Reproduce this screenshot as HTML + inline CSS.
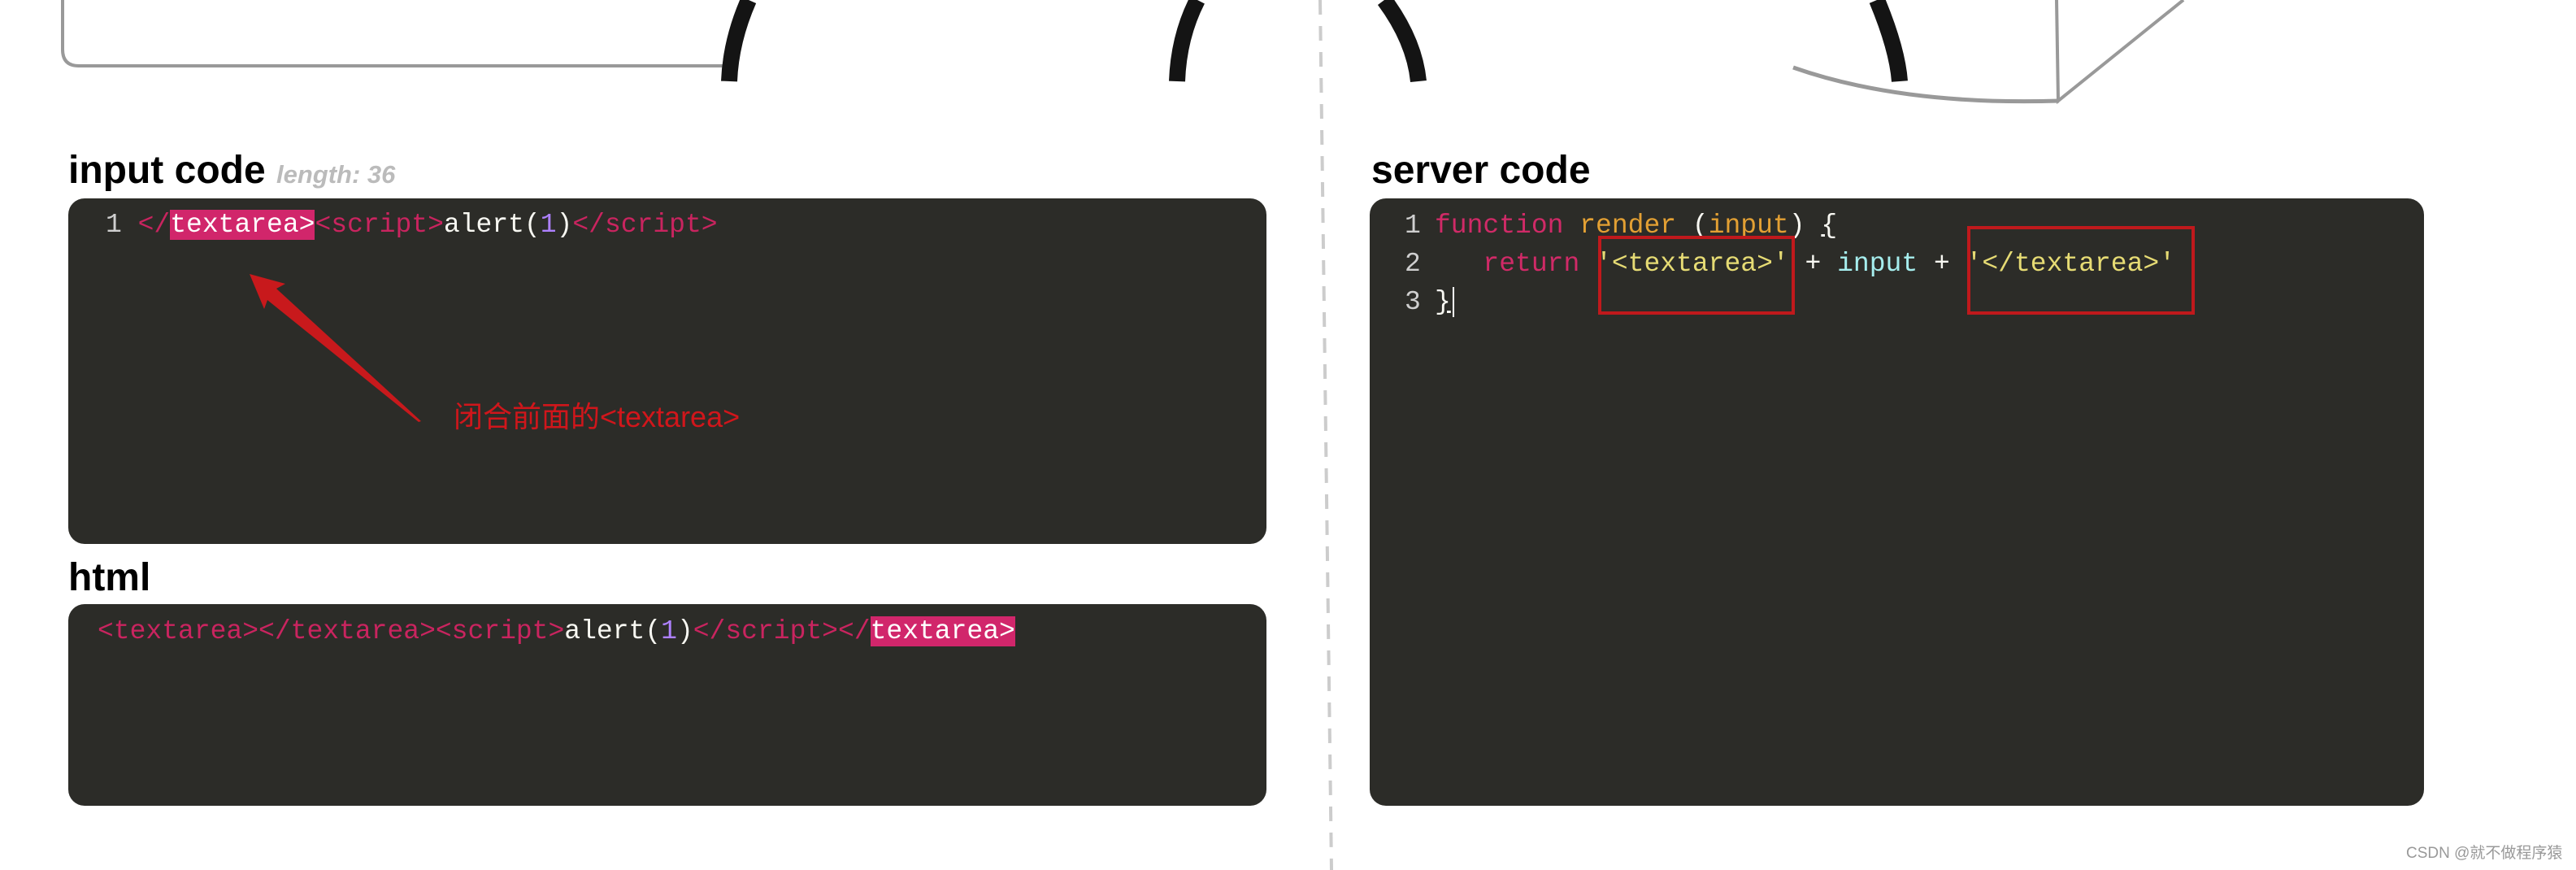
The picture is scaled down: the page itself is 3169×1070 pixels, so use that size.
<!DOCTYPE html>
<html><head><meta charset="utf-8">
<style>
html,body{margin:0;padding:0;background:#fff;}
body{width:3169px;height:1070px;position:relative;overflow:hidden;}
.abs{position:absolute;}
.h{font-family:"Liberation Sans",sans-serif;font-weight:bold;font-size:48px;color:#000;line-height:1;white-space:nowrap;}
.box{position:absolute;background:#2c2c28;border-radius:20px;}
.code{position:absolute;font-family:"Liberation Mono",monospace;font-size:33px;white-space:pre;color:#f8f8f2;}
.tag{color:#c9245f;}
.num{color:#ae81ff;}
.hl{background:#d1266b;color:#fff;}
.ln{color:#cfcfcf;}
.kw{color:#d02a67;}
.fn{color:#e3a033;}
.str{color:#e6db74;}
.var{color:#a6eeee;}
.ul{text-decoration:underline;}
.rb{position:absolute;border:4px solid #c0191c;box-sizing:border-box;}
</style></head><body>

<svg class="abs" style="left:0;top:0" width="3169" height="1070">
  <path d="M77,-10 L77,61 Q77,81 97,81 L900,81" fill="none" stroke="#999" stroke-width="4"/>
  <path d="M921,0 Q899,50 897,100" fill="none" stroke="#141414" stroke-width="20"/>
  <path d="M1473,0 Q1450,45 1448,100" fill="none" stroke="#141414" stroke-width="20"/>
  <path d="M1703,0 Q1740,50 1745,100" fill="none" stroke="#141414" stroke-width="20"/>
  <path d="M2309,0 Q2334,60 2337,100" fill="none" stroke="#141414" stroke-width="20"/>
  <path d="M2206,83 Q2340,130 2533,124" fill="none" stroke="#999" stroke-width="5"/>
  <path d="M2530,0 L2532,124 L2686,0" fill="none" stroke="#999" stroke-width="4"/>
  <line x1="1624" y1="0" x2="1638" y2="1070" stroke="#ccc" stroke-width="4" stroke-dasharray="18,14"/>
</svg>

<div class="abs h" style="left:84px;top:186px;">input code <span style="font-style:italic;color:#bbb;font-size:31px;">length: 36</span></div>
<div class="box" style="left:84px;top:244px;width:1474px;height:425px;"></div>
<div class="code" style="left:130px;top:256px;line-height:42px;"><span class="ln">1</span> <span class="tag">&lt;/</span><span class="hl">textarea&gt;</span><span class="tag">&lt;script&gt;</span>alert(<span class="num">1</span>)<span class="tag">&lt;/script&gt;</span></div>
<div class="abs" style="left:558px;top:492px;font-family:'Liberation Sans','Noto Sans CJK SC',sans-serif;font-size:36px;color:#d0161b;white-space:nowrap;line-height:42px;">闭合前面的&lt;textarea&gt;</div>

<div class="abs h" style="left:84px;top:687px;">html</div>
<div class="box" style="left:84px;top:743px;width:1474px;height:248px;"></div>
<div class="code" style="left:120px;top:756px;line-height:42px;"><span class="tag">&lt;textarea&gt;&lt;/textarea&gt;&lt;script&gt;</span>alert(<span class="num">1</span>)<span class="tag">&lt;/script&gt;&lt;/</span><span class="hl">textarea&gt;</span></div>

<div class="abs h" style="left:1687px;top:186px;">server code</div>
<div class="box" style="left:1685px;top:244px;width:1297px;height:747px;"></div>
<div class="code ln" style="left:1728px;top:254px;line-height:47px;">1
2
3</div>
<div class="code" style="left:1765px;top:254px;line-height:47px;"><span class="kw">function</span> <span class="fn">render</span> (<span class="fn">input</span>) <span class="ul">{</span>
   <span class="kw">return</span> <span class="str">'&lt;textarea&gt;'</span> + <span class="var">input</span> + <span class="str">'&lt;/textarea&gt;'</span>
<span class="ul">}</span><span style="border-left:2px solid #fff;margin-left:2px;"> </span></div>
<div class="rb" style="left:1966px;top:290px;width:242px;height:97px;"></div>
<div class="rb" style="left:2420px;top:278px;width:280px;height:109px;"></div>

<svg class="abs" style="left:0;top:0" width="3169" height="1070">
  <polygon points="307,337 351,349 340,355 518,518 515,519 329,369 325,380" fill="#c8191c"/>
</svg>

<div class="abs" style="left:2960px;top:1037px;font-family:'Liberation Sans','Noto Sans CJK SC',sans-serif;font-size:19px;color:#999;white-space:nowrap;line-height:26px;">CSDN @就不做程序猿</div>
</body></html>
